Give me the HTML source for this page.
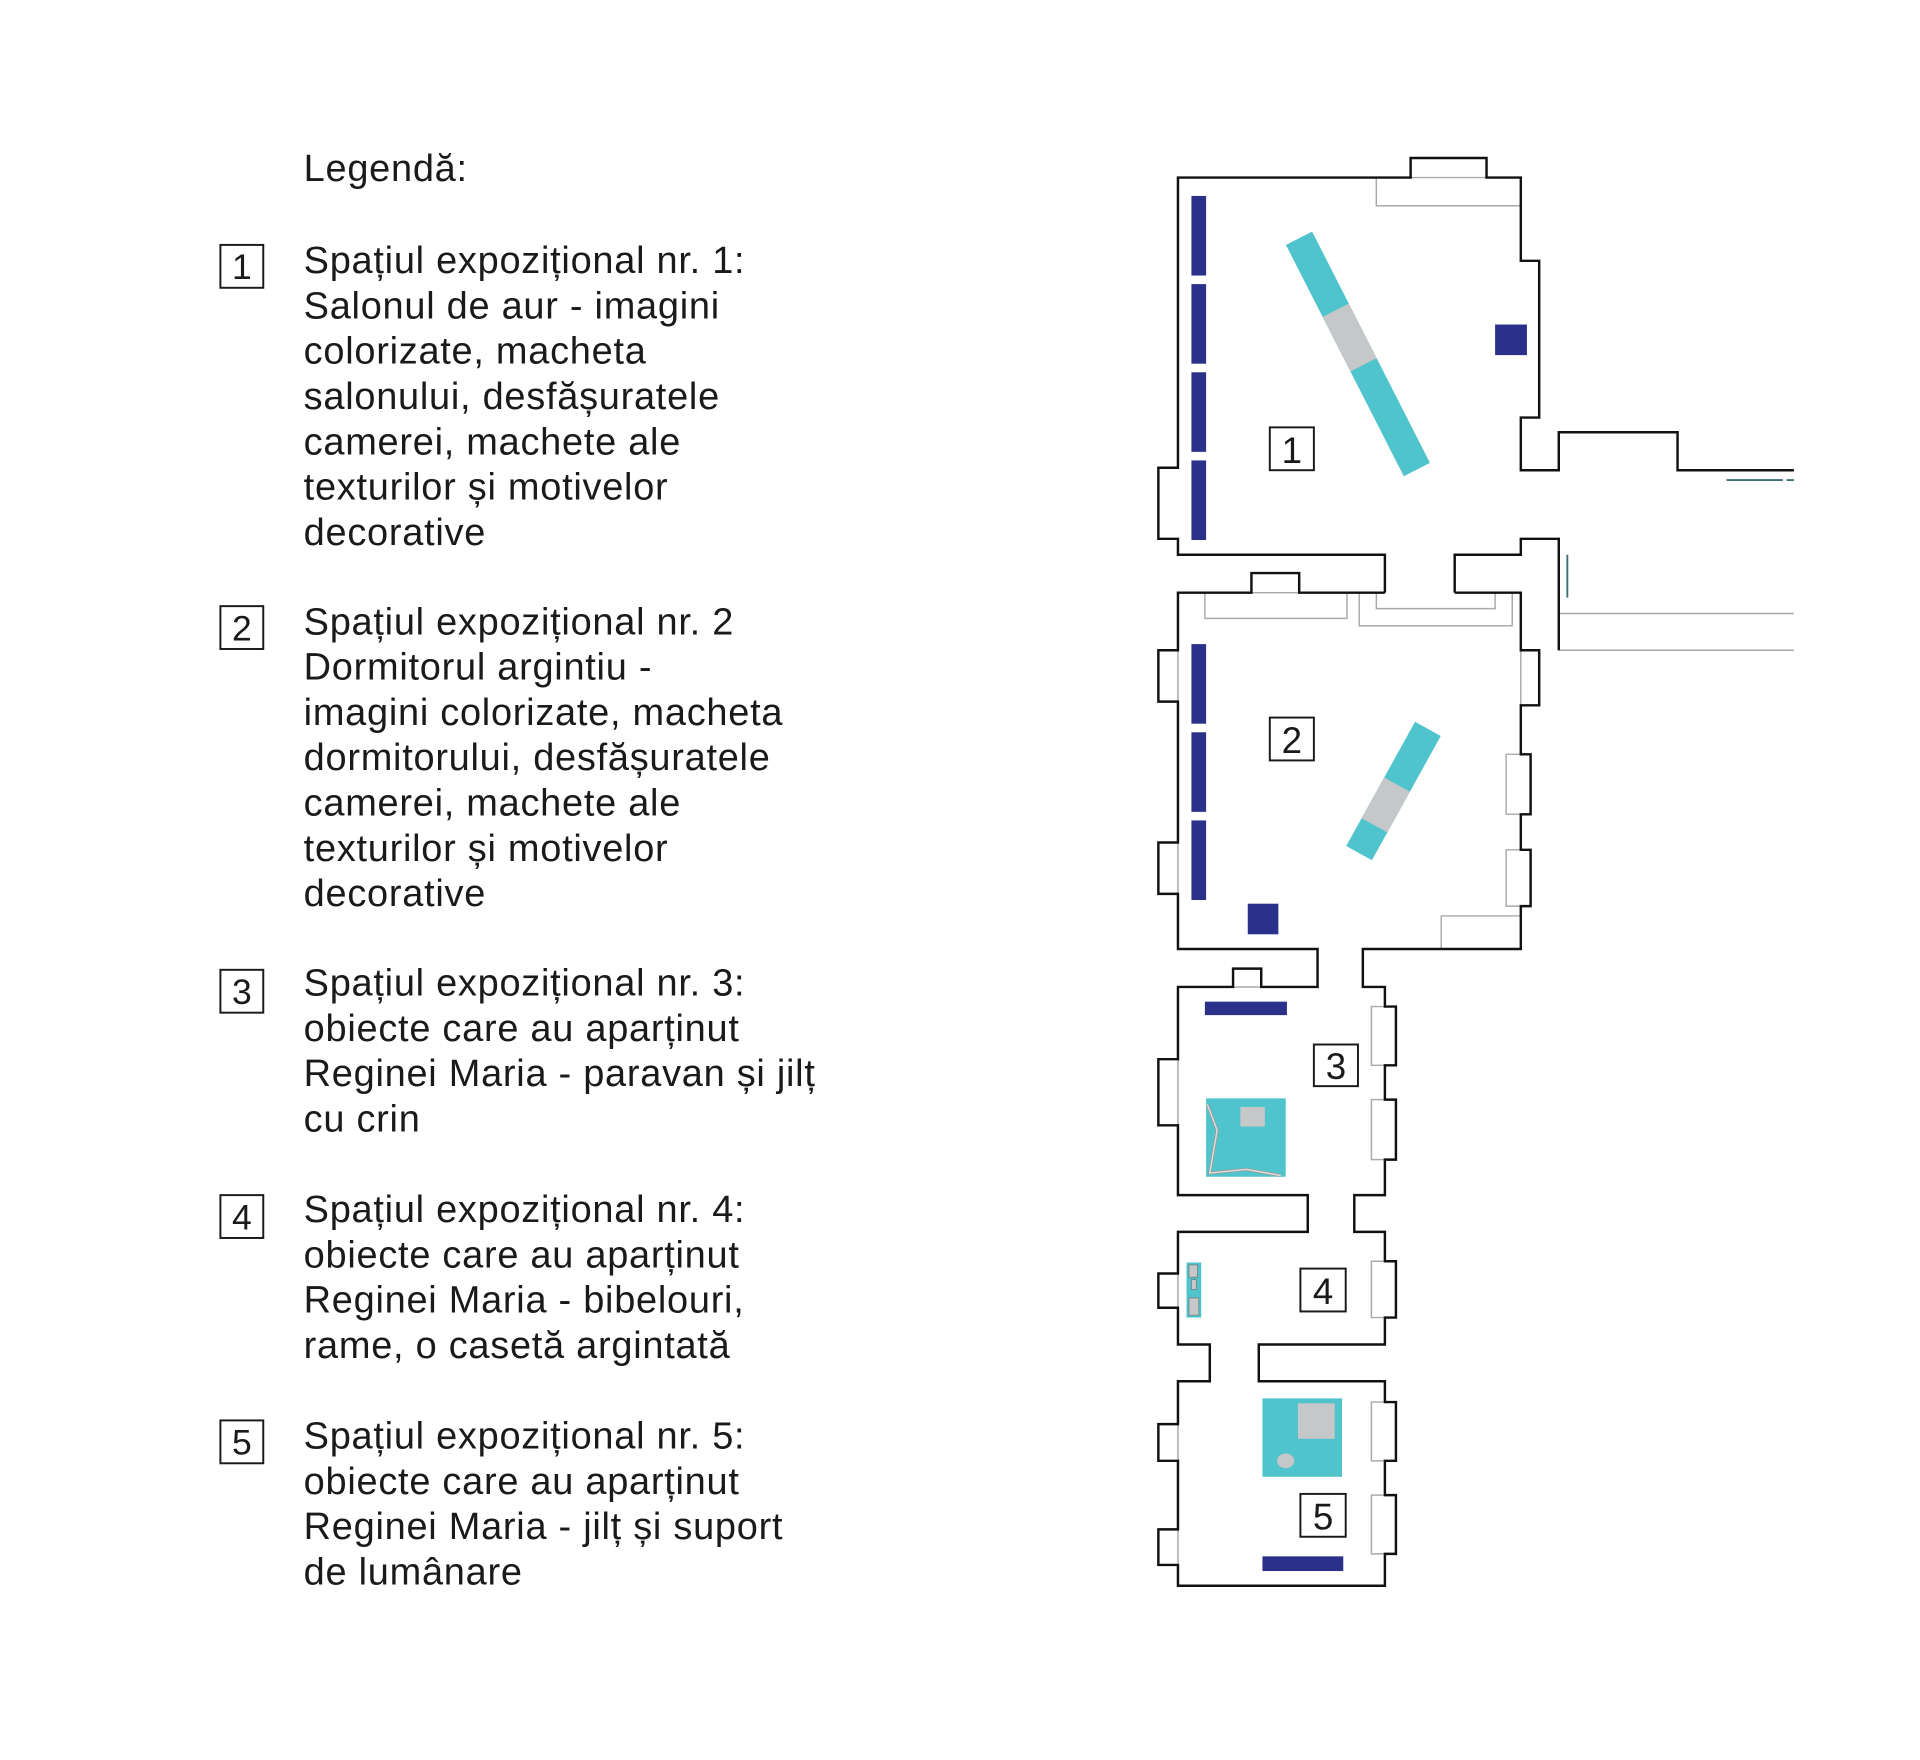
<!DOCTYPE html>
<html><head><meta charset="utf-8"><style>html,body{margin:0;padding:0;background:#fff}svg{display:block}</style></head>
<body>
<svg width="1920" height="1760" viewBox="0 0 1568 1437.3" xmlns="http://www.w3.org/2000/svg">
<rect width="1568" height="1438" fill="#fff"/>
<g font-family="Liberation Sans, sans-serif" font-size="31" letter-spacing="0.6" fill="#1a1a1a">
<text x="248" y="148">Legendă:</text>
<text x="248" y="223">Spațiul expozițional nr. 1:</text>
<text x="248" y="260">Salonul de aur - imagini</text>
<text x="248" y="297">colorizate, macheta</text>
<text x="248" y="334">salonului, desfășuratele</text>
<text x="248" y="371">camerei, machete ale</text>
<text x="248" y="408">texturilor și motivelor</text>
<text x="248" y="445">decorative</text>
<text x="248" y="518">Spațiul expozițional nr. 2</text>
<text x="248" y="555">Dormitorul argintiu -</text>
<text x="248" y="592">imagini colorizate, macheta</text>
<text x="248" y="629">dormitorului, desfășuratele</text>
<text x="248" y="666">camerei, machete ale</text>
<text x="248" y="703">texturilor și motivelor</text>
<text x="248" y="740">decorative</text>
<text x="248" y="813">Spațiul expozițional nr. 3:</text>
<text x="248" y="850">obiecte care au aparținut</text>
<text x="248" y="887">Reginei Maria - paravan și jilț</text>
<text x="248" y="924">cu crin</text>
<text x="248" y="998">Spațiul expozițional nr. 4:</text>
<text x="248" y="1035">obiecte care au aparținut</text>
<text x="248" y="1072">Reginei Maria - bibelouri,</text>
<text x="248" y="1109">rame, o casetă argintată</text>
<text x="248" y="1183">Spațiul expozițional nr. 5:</text>
<text x="248" y="1220">obiecte care au aparținut</text>
<text x="248" y="1257">Reginei Maria - jilț și suport</text>
<text x="248" y="1294">de lumânare</text>
</g>
<g fill="none" stroke="#1a1a1a" stroke-width="1.6">
<rect x="180" y="200" width="35" height="35"/><rect x="180" y="495" width="35" height="35"/><rect x="180" y="792" width="35" height="35"/><rect x="180" y="976" width="35" height="35"/><rect x="180" y="1160" width="35" height="35"/>
</g>
<g font-family="Liberation Sans, sans-serif" font-size="29" fill="#1a1a1a" text-anchor="middle">
<text x="197.5" y="228">1</text><text x="197.5" y="523">2</text><text x="197.5" y="820">3</text><text x="197.5" y="1004">4</text><text x="197.5" y="1188">5</text>
</g>
<g fill="none" stroke="#aaa" stroke-width="1.2">
<path d="M1124,145 V168 H1242"/>
<path d="M984,484 V505 H1100 V484"/>
<path d="M1110,484 V511 H1235 V484"/>
<path d="M1124,484 V497 H1221 V484"/>
<path d="M1273,501 H1465 M1273,531 H1465"/>
<path d="M1177,775 V748 H1242"/>
<path d="M1242,616 H1230 V665 H1242 M1242,694 H1230 V740 H1242 M962,531 V573 M962,688 V730 M1242,531 V576"/>
<path d="M1131,822 H1120 V870 H1131 M1131,898 H1120 V947 H1131 M962,865 V919 M1131,1030 H1120 V1076 H1131 M1131,1145 H1120 V1193 H1131 M1131,1221 H1120 V1269 H1131 M962,1163 V1193 M962,1249 V1278 M962,1040 V1068"/>
<path d="M1152,145 H1214 M1022,484 H1061 M1007,806 H1030"/>
</g>
<g stroke="#3b6e73" stroke-width="1.5"><path d="M1410,392 H1456 M1459,392 H1465 M1280,453 V488"/></g>
<g fill="none" stroke="#111" stroke-width="2">
<path d="M1131,484 V453 H962 V440 H946 V382 H962 V145 H1152 V129 H1214 V145 H1242 V213 H1257 V341 H1242 V384 H1273 V353 H1370 V384 H1465"/>
<path d="M1188,484 V453 H1242 V440 H1273 V531"/>
<path d="M1131,484 H1061 V468 H1022 V484 H962 V531 H946 V573 H962 V688 H946 V730 H962 V775 H1076 V806 H1030 V791 H1007 V806 H962 V865 H946 V919 H962 V976 H1068 V1006 H962 V1040 H946 V1068 H962 V1098 H988 V1128 H962 V1163 H946 V1193 H962 V1249 H946 V1278 H962 V1295 H1131 V1269 H1140 V1221 H1131 V1193 H1140 V1145 H1131 V1128 H1028 V1098 H1131 V1076 H1140 V1030 H1131 V1006 H1106 V976 H1131 V947 H1140 V898 H1131 V870 H1140 V822 H1131 V806 H1113 V775 H1242 V740 H1250 V694 H1242 V665 H1250 V616 H1242 V576 H1257 V531 H1242 V484 H1188"/>
</g>
<g fill="#2b318a">
<rect x="973" y="160" width="12" height="65"/><rect x="973" y="232" width="12" height="65"/><rect x="973" y="304" width="12" height="65"/><rect x="973" y="376" width="12" height="65"/>
<rect x="1221" y="265" width="26" height="25"/>
<rect x="973" y="526" width="12" height="65"/><rect x="973" y="598" width="12" height="65"/><rect x="973" y="670" width="12" height="65"/>
<rect x="1019" y="738" width="25" height="25"/>
<rect x="984" y="818" width="67" height="11"/>
<rect x="1031" y="1271" width="66" height="12"/>
</g>
<g transform="translate(1109,289) rotate(-27)">
<rect x="-12" y="-106" width="24" height="212" fill="#4fc4cc"/>
<rect x="-12" y="-40" width="24" height="50" fill="#c6c7c9"/>
</g>
<g transform="translate(1138,646) rotate(29)">
<rect x="-12" y="-58" width="24" height="116" fill="#4fc4cc"/>
<rect x="-12" y="-6" width="24" height="38" fill="#c6c7c9"/>
</g>
<rect x="985" y="897" width="65" height="64" fill="#4fc4cc"/>
<rect x="1013" y="904" width="20" height="16" fill="#c6c7c9"/>
<path d="M986,902 L994,923 L988,958 L1018,955 L1046,960" fill="none" stroke="#999" stroke-width="2.5"/>
<path d="M986,902 L994,923 L988,958 L1018,955 L1046,960" fill="none" stroke="#ddd" stroke-width="1.2"/>
<rect x="969" y="1031" width="12" height="45" fill="#4fc4cc"/>
<rect x="971" y="1033" width="7" height="10" fill="#c6c7c9" stroke="#777" stroke-width="0.6"/>
<rect x="973" y="1045" width="4" height="8" fill="#c6c7c9" stroke="#777" stroke-width="0.6"/>
<rect x="971" y="1060" width="8" height="14" fill="#c6c7c9" stroke="#777" stroke-width="0.6"/>
<rect x="1031" y="1142" width="65" height="64" fill="#4fc4cc"/>
<rect x="1060" y="1146" width="30" height="29" fill="#c6c7c9"/>
<ellipse cx="1050" cy="1193" rx="7" ry="6" fill="#c6c7c9"/>
<g fill="#fff" stroke="#1a1a1a" stroke-width="1.6">
<rect x="1037" y="349" width="36" height="35"/><rect x="1037" y="586" width="36" height="35"/><rect x="1073" y="853" width="36" height="34"/><rect x="1062" y="1036" width="37" height="35"/><rect x="1062" y="1220" width="37" height="35"/>
</g>
<g font-family="Liberation Sans, sans-serif" font-size="30" fill="#1a1a1a" text-anchor="middle">
<text x="1055" y="378">1</text><text x="1055" y="615">2</text><text x="1091" y="881">3</text><text x="1080.5" y="1065">4</text><text x="1080.5" y="1249">5</text>
</g>
</svg>
</body></html>
